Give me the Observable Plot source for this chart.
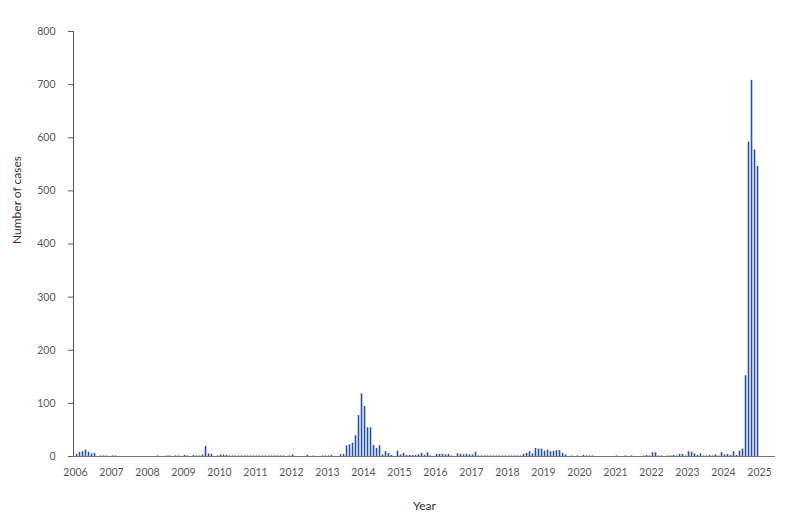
<!DOCTYPE html>
<html>
<head>
<meta charset="utf-8">
<script src="https://cdn.jsdelivr.net/npm/d3@7"></script>
<script src="https://cdn.jsdelivr.net/npm/@observablehq/plot@0.6"></script>
<style>
  html, body { margin: 0; padding: 0; background: #ffffff; }
  #chart { width: 800px; height: 524px; }
</style>
</head>
<body>
<div id="chart"></div>
<script>
// Monthly number of cases, January to December of each year
const years = [2006, 2007, 2008, 2009, 2010, 2011, 2012, 2013, 2014, 2015,
               2016, 2017, 2018, 2019, 2020, 2021, 2022, 2023, 2024];
const cases2006 = [4, 8, 9, 12, 8, 5, 6, 0, 1, 1, 1, 0];
const cases2007 = [1, 1, 0, 0, 0, 0, 0, 0, 0, 0, 0, 0];
const cases2008 = [0, 0, 0, 1, 0, 0, 1, 1, 0, 1, 1, 0];
const cases2009 = [2, 1, 0, 2, 1, 1, 3, 19, 5, 4, 0, 1];
const cases2010 = [3, 3, 2, 1, 1, 1, 1, 1, 1, 1, 1, 1];
const cases2011 = [1, 1, 1, 1, 1, 1, 1, 1, 1, 1, 0, 1];
const cases2012 = [3, 0, 0, 0, 0, 2, 0, 1, 0, 0, 1, 1];
const cases2013 = [1, 2, 0, 0, 3, 4, 20, 22, 25, 39, 77, 118];
const cases2014 = [94, 54, 54, 21, 15, 20, 3, 9, 6, 2, 0, 10];
const cases2015 = [3, 6, 2, 2, 2, 2, 3, 6, 2, 7, 1, 0];
const cases2016 = [4, 4, 4, 3, 4, 1, 0, 5, 4, 3, 4, 3];
const cases2017 = [3, 8, 1, 1, 1, 1, 1, 1, 1, 1, 1, 1];
const cases2018 = [1, 1, 1, 1, 1, 4, 6, 9, 5, 15, 14, 14];
const cases2019 = [10, 12, 9, 10, 11, 11, 6, 3, 0, 1, 0, 1];
const cases2020 = [0, 2, 1, 1, 1, 0, 0, 0, 0, 0, 0, 0];
const cases2021 = [1, 0, 0, 1, 0, 1, 0, 0, 0, 1, 2, 1];
const cases2022 = [7, 7, 1, 1, 0, 1, 1, 2, 1, 4, 4, 1];
const cases2023 = [9, 8, 5, 2, 5, 1, 1, 2, 1, 3, 1, 7];
const cases2024 = [3, 4, 2, 9, 2, 10, 14, 152, 592, 708, 577, 546];

const xTickYears = [2006, 2007, 2008, 2009, 2010, 2011, 2012, 2013, 2014, 2015,
                    2016, 2017, 2018, 2019, 2020, 2021, 2022, 2023, 2024, 2025];
const yTicks = [0, 100, 200, 300, 400, 500, 600, 700, 800];

const monthly = [cases2006, cases2007, cases2008, cases2009, cases2010, cases2011,
                 cases2012, cases2013, cases2014, cases2015, cases2016, cases2017,
                 cases2018, cases2019, cases2020, cases2021, cases2022, cases2023, cases2024];

const rows = years.flatMap((yr, i) =>
  monthly[i].map((v, m) => ({start: yr + m / 12, end: yr + (m + 1) / 12, value: v}))
);

const xStart = 2005.944;
const xEnd = 2025.444;

const chart = Plot.plot({
  width: 800,
  height: 524,
  marginLeft: 73,
  marginRight: 25,
  marginTop: 31,
  marginBottom: 68,
  style: {fontFamily: "Lato, 'Open Sans', sans-serif", fontSize: "10.5px", color: "#5a5a5a", background: "#ffffff"},
  x: {
    type: "linear",
    domain: [xStart, xEnd],
    label: null
  },
  y: {
    domain: [0, 800],
    label: null
  },
  marks: [
    Plot.rectY(rows, {x1: "start", x2: "end", y: "value", fill: "#2352a3", insetLeft: 0.7, insetRight: 0.7}),
    Plot.ruleX([xStart], {stroke: "#555", strokeWidth: 1}),
    Plot.ruleY([0], {stroke: "#777", strokeWidth: 1}),
    Plot.axisX({ticks: xTickYears, tickFormat: d => String(d), tickSize: 0, tickPadding: 12, label: null}),
    Plot.axisY({ticks: yTicks, tickSize: 5, tickPadding: 13, label: null}),
    Plot.text(["Year"], {frameAnchor: "bottom", dy: 50, fill: "#333", fontSize: 12, lineAnchor: "middle"}),
    Plot.text(["Number of cases"], {frameAnchor: "left", dx: -56, rotate: -90, fill: "#333", fontSize: 12, lineAnchor: "middle"})
  ]
});
document.getElementById("chart").appendChild(chart);
</script>
</body>
</html>
